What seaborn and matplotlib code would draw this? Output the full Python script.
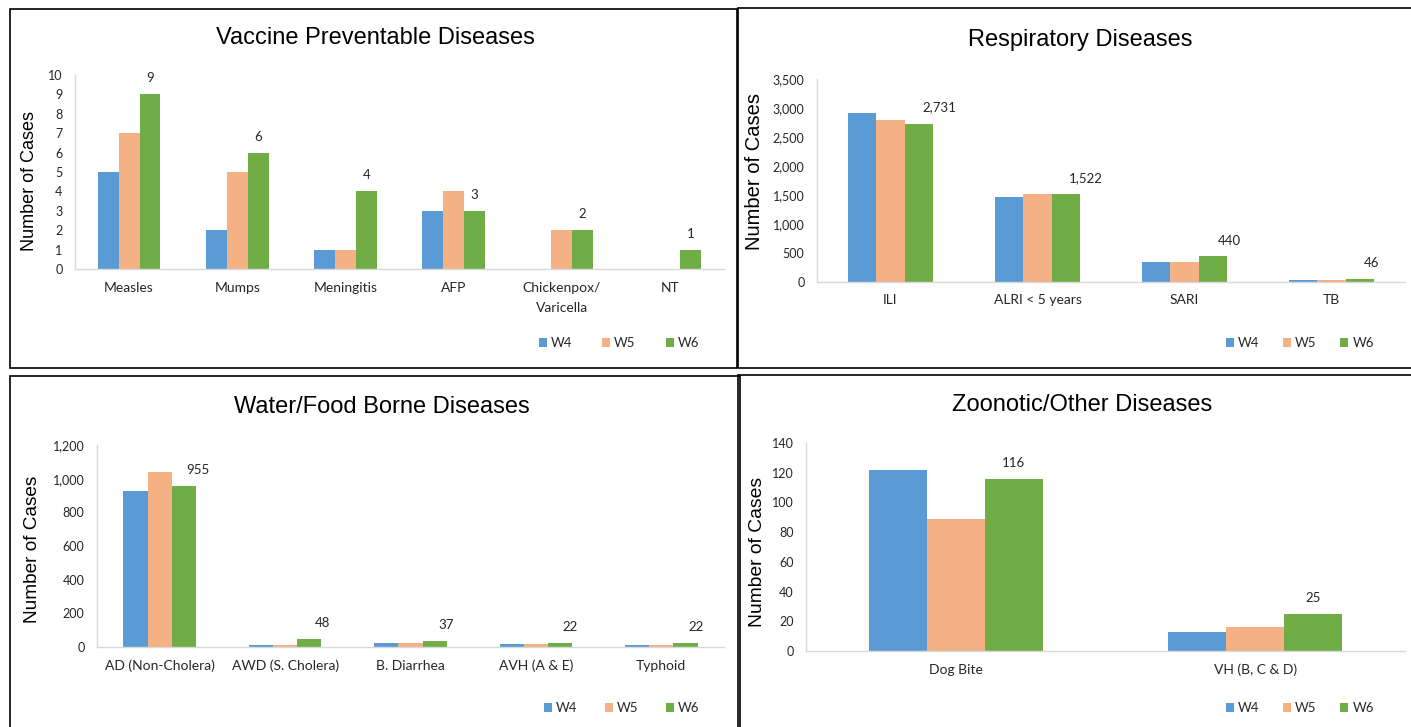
import matplotlib
matplotlib.use("Agg")
import matplotlib.pyplot as plt
from matplotlib.patches import Rectangle
from matplotlib.ticker import FuncFormatter, MultipleLocator
import seaborn as sns
import pandas as pd

# ---- data -------------------------------------------------------------
weeks = ["W4", "W5", "W6"]
week_colors = ["#5B9BD5", "#F4B183", "#70AD47"]

vpd_categories = ["Measles", "Mumps", "Meningitis", "AFP", "Chickenpox/\nVaricella", "NT"]
vpd_w4 = [5, 2, 1, 3, 0, 0]
vpd_w5 = [7, 5, 1, 4, 2, 0]
vpd_w6 = [9, 6, 4, 3, 2, 1]

resp_categories = ["ILI", "ALRI < 5 years", "SARI", "TB"]
resp_w4 = [2920, 1465, 345, 38]
resp_w5 = [2800, 1515, 345, 40]
resp_w6 = [2731, 1522, 440, 46]

wfb_categories = ["AD (Non-Cholera)", "AWD (S. Cholera)", "B. Diarrhea", "AVH (A & E)", "Typhoid"]
wfb_w4 = [925, 10, 26, 20, 11]
wfb_w5 = [1040, 10, 26, 20, 11]
wfb_w6 = [955, 48, 37, 22, 22]

zoo_categories = ["Dog Bite", "VH (B, C & D)"]
zoo_w4 = [122, 13]
zoo_w5 = [89, 16]
zoo_w6 = [116, 25]

# ---- figure setup ------------------------------------------------------
W, H = 1411, 727
sns.set_theme(style="white")
plt.rcParams["font.family"] = ["Lato", "DejaVu Sans"]
fig = plt.figure(figsize=(W / 100, H / 100), dpi=100)

TICK_FONT = ["Lato", "DejaVu Sans"]
HEAD_FONT = ["Liberation Sans", "DejaVu Sans"]


def px_axes(x0, y_top, x1, y_bot):
    return fig.add_axes([x0 / W, 1 - y_bot / H, (x1 - x0) / W, (y_bot - y_top) / H])


def thousands(v, _pos=None):
    return f"{int(v):,}"


def panel(box, axes_px, title, title_xy, ylabel_xy, ylabel_size, categories, w4, w5, w6,
          ymax, ystep, label_dx, legend_xy, legend_gap):
    # frame around the panel
    bx0, by0, bx1, by1 = box
    fig.add_artist(Rectangle((bx0 / W, 1 - by1 / H), (bx1 - bx0) / W, (by1 - by0) / H,
                             transform=fig.transFigure, fill=False,
                             edgecolor="black", linewidth=1.2, zorder=10))

    ax = px_axes(*axes_px)
    n = len(categories)
    df = pd.DataFrame({
        "Disease": categories * 3,
        "Week": [w for w in weeks for _ in range(n)],
        "Cases": list(w4) + list(w5) + list(w6),
    })
    sns.barplot(data=df, x="Disease", y="Cases", hue="Week", order=categories,
                hue_order=weeks, palette=week_colors, saturation=1, width=0.58,
                gap=0, ax=ax, errorbar=None, linewidth=0)

    ax.set_xlim(-0.5, n - 0.5)
    ax.set_ylim(0, ymax)
    ax.yaxis.set_major_locator(MultipleLocator(ystep))
    ax.yaxis.set_major_formatter(FuncFormatter(thousands))
    ax.set_xticks(range(n))
    ax.set_xticklabels(categories, family=TICK_FONT, fontsize=10, linespacing=1.9)
    ax.set_xlabel("")
    ax.set_ylabel("")
    for side in ("top", "right"):
        ax.spines[side].set_visible(False)
    for side in ("left", "bottom"):
        ax.spines[side].set_color("#D9D9D9")
        ax.spines[side].set_linewidth(1.0)
    ax.tick_params(axis="both", length=0, colors="#262626")
    ax.tick_params(axis="y", pad=9, labelsize=9)
    ax.tick_params(axis="x", pad=9)
    for lab in ax.get_yticklabels():
        lab.set_family(TICK_FONT)
    ax.patch.set_alpha(0)

    # value labels above the W6 bars
    green_bars = ax.containers[2]
    for bar, v, dx in zip(green_bars, w6, label_dx):
        ax.annotate(f"{v:,}", (bar.get_x() + bar.get_width() / 2, bar.get_height()),
                    xytext=(dx * 0.72, 11.5), textcoords="offset points",
                    ha="center", va="center", fontsize=9.5, family=TICK_FONT,
                    color="#262626")

    fig.text(title_xy[0] / W, 1 - title_xy[1] / H, title, ha="center", va="center",
             fontsize=17, family=HEAD_FONT, color="black")
    fig.text(ylabel_xy[0] / W, 1 - ylabel_xy[1] / H, "Number of Cases", rotation=90,
             ha="center", va="center", fontsize=ylabel_size, family=HEAD_FONT, color="black")

    sns.move_legend(ax, loc="center", bbox_to_anchor=(legend_xy[0] / W, 1 - legend_xy[1] / H),
                    bbox_transform=fig.transFigure, ncol=3, frameon=False, title=None,
                    handlelength=0.6, handleheight=0.6, handletextpad=0.3,
                    columnspacing=legend_gap, prop={"family": TICK_FONT, "size": 9.5})
    return ax


axes = [
    panel((9.5, 9, 737, 368), (75, 75, 724, 269), "Vaccine Preventable Diseases", (375, 38),
          (29, 181), 13, vpd_categories, vpd_w4, vpd_w5, vpd_w6, 10, 1,
          [0, 0, 0, 0, 0, 0], (619, 343), 2.3),
    panel((738, 8, 1420, 368), (817, 79, 1405, 282), "Respiratory Diseases", (1080, 40),
          (755, 172), 14.5, resp_categories, resp_w4, resp_w5, resp_w6, 3500, 500,
          [20, 20, 16, 12], (1300, 343), 1.8),
    panel((9.5, 376, 740, 740), (97, 445, 724, 647), "Water/Food Borne Diseases", (382, 407),
          (33, 549), 13.7, wfb_categories, wfb_w4, wfb_w5, wfb_w6, 1200, 200,
          [14, 13, 11, 10, 11], (622, 708), 2.1),
    panel((738, 375, 1420, 740), (806, 443, 1405, 651), "Zoonotic/Other Diseases", (1082, 405),
          (757, 552), 13.9, zoo_categories, zoo_w4, zoo_w5, zoo_w6, 140, 20,
          [0, 0], (1300, 708), 1.8),
]

fig.savefig("out.png", dpi=100, facecolor="white")
